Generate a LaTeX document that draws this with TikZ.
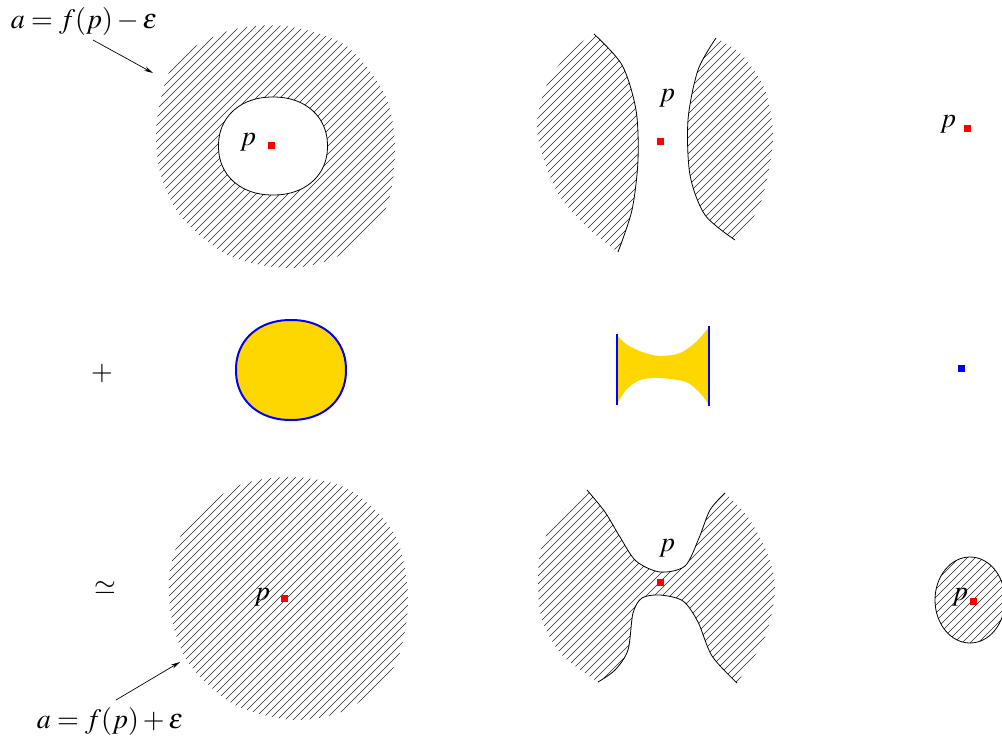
\documentclass[tikz,border=0pt]{standalone}
\usepackage{amsmath,amssymb}
\usepackage{mathptmx}
\usepackage{xcolor}
\usetikzlibrary{arrows.meta}

\definecolor{blobyellow}{RGB}{255,215,0}

% hatching of a box x0..x1, y0..y1 (use inside a clip)
\newcommand{\hatch}[4]{%
  \pgfmathsetmacro{\hstart}{#1-(#4-#3)}%
  \pgfmathsetmacro{\hnext}{\hstart+8}%
  \pgfmathsetmacro{\hlen}{#4-#3}%
  \foreach \k in {\hstart,\hnext,...,#2}
    \draw[hatchline] (\k,#4) -- ++(\hlen,-\hlen);
}
% slightly squared oval: centre x, centre y, x radius, y radius
\newcommand{\roundoval}[4]{%
  plot[domain=2.5:357.5, samples=72]
    ({#1+#3*sign(cos(\x))*abs(cos(\x))^0.93}, {#2+#4*sign(sin(\x))*abs(sin(\x))^0.93}) -- cycle}

\begin{document}
\begin{tikzpicture}[
    x=1pt, y=1pt, yscale=-1, xscale=1,
    hatchline/.style={line width=0.55pt, black!85},
    rim/.style={line width=0.8pt},
    blueline/.style={blue, line width=2pt},
    reddot/.style={rectangle, fill=red, minimum size=7pt, inner sep=0pt},
    bluedot/.style={rectangle, fill=blue, minimum size=7pt, inner sep=0pt},
    pointer/.style={line width=0.7pt, -{Stealth[length=9pt,width=4.5pt]}},
    lbl/.style={font=\fontsize{28}{32}\selectfont, inner sep=1pt}
]
\useasboundingbox (0,0) rectangle (1002,740);

%==================== Row 1, left: annulus ====================
\begin{scope}
  \clip plot[smooth cycle] coordinates {(157,120) (175,62) (228,31) (285,26) (345,45) (385,95) (395,150) (385,210) (342,254) (290,268) (230,256) (182,218) (160,172)};
  \hatch{150}{400}{20}{275}
\end{scope}
\draw[rim, fill=white] \roundoval{273}{146}{54.5}{49};

%==================== Row 1, middle: two lenses ====================
\begin{scope}
  \clip plot[smooth] coordinates {(594,34) (622,65) (636,110) (638,160) (632,210) (618,252)}
     -- plot[smooth] coordinates {(618,252) (588,228) (556,190) (537,130) (548,82) (572,50) (594,34)} -- cycle;
  \hatch{530}{645}{30}{256}
\end{scope}
\draw[rim] plot[smooth] coordinates {(594,34) (622,65) (636,110) (638,160) (632,210) (618,252)};

\begin{scope}
  \clip plot[smooth] coordinates {(716,38) (698,70) (688,120) (690,175) (705,215) (735,240)}
     -- plot[smooth] coordinates {(735,240) (760,205) (773,140) (765,90) (742,55) (716,38)} -- cycle;
  \hatch{680}{780}{34}{244}
\end{scope}
\draw[rim] plot[smooth] coordinates {(716,38) (698,70) (688,120) (690,175) (705,215) (735,240)};

%==================== Row 2: cells ====================
\draw[blueline, fill=blobyellow] \roundoval{291}{370}{55}{50};

\fill[blobyellow] plot[smooth] coordinates {(617,335) (626,344) (642,352) (660,356) (680,353) (696,342) (709,327)}
   -- plot[smooth] coordinates {(709,405) (700,393) (686,382) (660,378) (640,380) (626,390) (617,404)} -- cycle;
\draw[blueline] (617,334) -- (617,405);
\draw[blueline] (709,326) -- (709,406);

%==================== Row 3, left: disc ====================
\begin{scope}
  \clip plot[smooth cycle] coordinates {(170,570) (190,520) (240,485) (295,477) (350,490) (395,535) (408,600) (395,665) (350,708) (295,720) (235,705) (190,665) (172,620)};
  \hatch{165}{412}{472}{724}
\end{scope}

%==================== Row 3, middle: handle ====================
\begin{scope}
  \clip plot[smooth] coordinates {(587,490) (605,512) (620,537) (636,561) (660,572) (685,566) (699,538) (710,510) (725,493)}
     -- plot[smooth] coordinates {(725,493) (748,517) (768,555) (775,590) (765,637) (737,683)}
     -- plot[smooth] coordinates {(737,683) (712,656) (698,622) (683,601) (660,595) (642,598) (633,613) (628,650) (615,670) (598,682)}
     -- plot[smooth] coordinates {(598,682) (562,655) (542,620) (538,580) (542,545) (560,515) (587,490)} -- cycle;
  \hatch{532}{780}{486}{688}
\end{scope}
\draw[rim] plot[smooth] coordinates {(587,490) (605,512) (620,537) (636,561) (660,572) (685,566) (699,538) (710,510) (725,493)};
\draw[rim] plot[smooth] coordinates {(737,683) (712,656) (698,622) (683,601) (660,595) (642,598) (633,613) (628,650) (615,670) (598,682)};

%==================== Row 3, right: small disc ====================
\begin{scope}
  \clip (0,0) rectangle (1002,740);
  \begin{scope}
    \clip (970,600) ellipse [x radius=35, y radius=43];
    \hatch{930}{1010}{555}{645}
  \end{scope}
  \draw[rim] (970,600) ellipse [x radius=35, y radius=43];
\end{scope}

%==================== Base points ====================
\node[reddot]  (dotA) at (271,145) {};
\node[reddot]  (dotB) at (660,141) {};
\node[reddot]  (dotC) at (967,128) {};
\node[bluedot] (dotD) at (961,368) {};
\node[reddot]  (dotE) at (284,598) {};
\node[reddot]  (dotF) at (660,582) {};
\node[reddot]  (dotG) at (973,601) {};

%==================== Labels ====================
\node[lbl] (pA) at (248,142) {$p$};
\node[lbl] (pB) at (667,98)  {$p$};
\node[lbl] (pC) at (948,124) {$p$};
\node[lbl] (pE) at (262,597) {$p$};
\node[lbl] (pF) at (667,548) {$p$};
\node[lbl] (pG) at (960,597) {$p$};

\node[lbl] (plus)  at (102,373) {$+$};
\node[lbl] (simeq) at (105,588) {$\simeq$};

\node[lbl] (lblminus) at (84,21)   {$a=f(p)-\varepsilon$};
\node[lbl] (lblplus)  at (110,721) {$a=f(p)+\varepsilon$};

% arrows to the level sets
\coordinate (tailA) at (93,40);
\coordinate (tipA)  at (153,73);
\coordinate (tailB) at (116,700);
\coordinate (tipB)  at (180,662);
\draw[pointer] (tailA) -- (tipA);
\draw[pointer] (tailB) -- (tipB);

\end{tikzpicture}
\end{document}
